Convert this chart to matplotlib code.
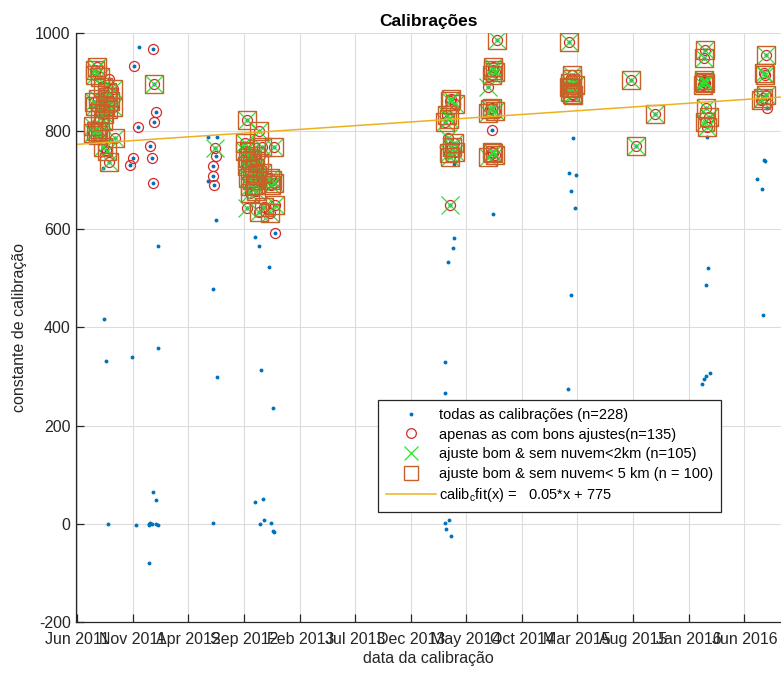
import matplotlib
matplotlib.use('Agg')
import matplotlib.pyplot as plt
import matplotlib.dates as mdates
import numpy as np
import pandas as pd

plt.rcParams['font.family'] = ['Liberation Sans', 'DejaVu Sans']
plt.rcParams['axes.unicode_minus'] = False

# calibrations with a bad fit (blue dot only)
bad_dates = ['2011-08-13', '2011-08-19', '2011-08-24', '2011-08-12',
             '2011-11-18', '2012-01-08', '2011-10-30', '2012-01-08', '2011-11-09', '2011-12-14',
             '2011-12-18', '2011-12-23', '2012-01-04', '2012-01-08', '2011-12-15', '2011-12-27',
             '2012-01-04', '2011-12-14',
             '2012-05-26', '2012-06-18', '2012-05-24', '2012-06-15', '2012-06-08', '2012-06-18', '2012-06-08',
             '2012-09-29', '2012-10-10', '2012-11-08', '2012-10-16', '2012-11-18', '2012-10-01',
             '2012-10-22', '2012-10-14', '2012-10-25', '2012-11-13', '2012-11-19', '2012-11-20',
             '2014-03-28', '2014-03-28', '2014-03-26', '2014-03-13', '2014-03-05', '2014-03-05',
             '2014-03-14', '2014-03-05', '2014-03-08', '2014-03-22',
             '2014-07-14',
             '2015-02-17', '2015-02-06', '2015-02-25', '2015-02-11', '2015-02-22', '2015-02-13', '2015-02-04',
             '2016-02-20', '2016-02-22', '2016-02-17', '2016-02-06', '2016-02-10', '2016-02-17', '2016-02-28',
             '2016-07-27', '2016-07-24', '2016-07-04', '2016-07-19', '2016-07-23']
bad_vals = [417, 332, 0, 725,
            971, 565, 340, 358, -3, 0, 1, 0, 0, -3, -2, 64, 48, -80,
            787, 787, 699, 618, 479, 299, 1,
            584, 566, 524, 314, 236, 45, 51, -1, 7, 2, -14, -16,
            733, 582, 562, 534, 329, 267, 7, 1, -10, -25,
            631,
            786, 714, 711, 677, 644, 466, 275,
            787, 521, 487, 285, 294, 300, 308,
            739, 740, 702, 681, 426]

# good fit only (circle)
circ_dates = ['2011-08-28', '2011-08-20',
              '2011-12-27', '2011-11-05', '2012-01-03', '2011-12-30', '2011-11-14', '2011-12-18',
              '2011-11-01', '2011-12-23', '2011-10-24', '2011-12-25',
              '2012-06-16', '2012-06-07', '2012-06-08', '2012-06-11',
              '2012-11-25', '2014-07-11', '2016-08-01']
circ_vals = [905, 762,
             968, 932, 839, 819, 809, 770, 746, 746, 730, 694,
             749, 729, 709, 690,
             592, 802, 846]

# good fit & no cloud < 2 km, but no square
x_dates = ['2012-06-13', '2012-09-08', '2014-03-12', '2014-03-19', '2014-07-01']
x_vals = [765, 643, 785, 650, 890]

# good fit & no cloud < 2 km & < 5 km
sq_dates = ['2011-07-26', '2011-07-21', '2011-08-03', '2011-09-07', '2011-08-25', '2011-07-21',
            '2011-08-17', '2011-09-07', '2011-08-03', '2011-07-15', '2011-08-03', '2011-09-14',
            '2011-08-11', '2011-08-22', '2011-08-28', '2011-07-20', '2011-08-10', '2011-08-22',
            '2011-07-18', '2011-07-28', '2011-08-15', '2011-07-22', '2011-07-28', '2011-08-12',
            '2011-08-25', '2011-07-15', '2011-08-30',
            '2011-12-30',
            '2012-09-08', '2012-10-10', '2012-09-03', '2012-09-17', '2012-10-19', '2012-11-20',
            '2012-09-03', '2012-09-12', '2012-09-23', '2012-10-01', '2012-09-08', '2012-09-17',
            '2012-09-28', '2012-10-10', '2012-09-12', '2012-09-23', '2012-10-05', '2012-10-19',
            '2012-09-17', '2012-10-01', '2012-09-17', '2012-10-03', '2012-11-11', '2012-11-16',
            '2012-11-14', '2012-11-20', '2012-10-10', '2012-11-11', '2012-11-25', '2012-10-24',
            '2014-03-19', '2014-04-02', '2014-03-10', '2014-03-05', '2014-03-14', '2014-03-24',
            '2014-03-14', '2014-04-02', '2014-03-19', '2014-03-28', '2014-03-22',
            '2014-07-25', '2014-07-14', '2014-07-19', '2014-07-11', '2014-07-11', '2014-07-19',
            '2014-06-30', '2014-07-11', '2014-07-19', '2014-07-01', '2014-07-15', '2014-07-05', '2014-07-14',
            '2015-02-06', '2015-02-16', '2015-02-10', '2015-02-10', '2015-02-19', '2015-02-13',
            '2015-02-22', '2015-02-06', '2015-02-14', '2015-02-16',
            '2015-07-26', '2015-08-10', '2015-10-01',
            '2016-02-15', '2016-02-10', '2016-02-10', '2016-02-15', '2016-02-08', '2016-02-12',
            '2016-02-18', '2016-02-24', '2016-02-15', '2016-02-20',
            '2016-07-31', '2016-07-27', '2016-07-31', '2016-07-15', '2016-07-25', '2016-07-21']
sq_vals = [931, 914, 910, 886, 870, 851, 850, 849, 837, 810, 798, 786, 768, 759, 736,
           925, 890, 880, 860, 865, 835, 800, 792, 820, 845, 795, 862,
           895,
           823, 799, 775, 758, 768, 768, 760, 745, 740, 750, 728, 720, 725, 735, 705, 700,
           710, 715, 688, 690, 673, 678, 705, 700, 690, 695, 636, 633, 650, 645,
           862, 856, 833, 819, 825, 768, 755, 758, 748, 775, 865,
           986, 931, 921, 914, 846, 840, 836, 758, 751, 748, 925, 845, 755,
           982, 914, 897, 880, 873, 887, 894, 890, 905, 876,
           903, 770, 835,
           965, 948, 904, 897, 894, 900, 846, 829, 819, 809,
           955, 914, 873, 863, 918, 868]

fit_slope = 0.05
fit_intercept = 775

tick_dates = pd.date_range('2011-06-01', periods=13, freq='5MS')
xlim = (pd.Timestamp('2011-05-28'), pd.Timestamp('2016-09-09'))

bad_d = pd.to_datetime(bad_dates)
circ_d = pd.to_datetime(circ_dates)
x_d = pd.to_datetime(x_dates)
sq_d = pd.to_datetime(sq_dates)

all_d = bad_d.append(circ_d).append(x_d).append(sq_d)
all_v = bad_vals + circ_vals + x_vals + sq_vals
good_d = circ_d.append(x_d).append(sq_d)
good_v = circ_vals + x_vals + sq_vals
x2_d = x_d.append(sq_d)
x2_v = x_vals + sq_vals

fig = plt.figure(figsize=(7.81, 6.74), dpi=100)
ax = fig.add_axes([75.5 / 781, 52 / 674, 705.5 / 781, 589.2 / 674])

ax.plot(all_d, all_v, 'o', ms=2.8, color='#0072BD', mec='none',
        label='todas as calibrações (n=228)')
ax.plot(good_d, good_v, 'o', ms=7.2, mfc='none', mec='#d42a2a', mew=0.9,
        label='apenas as com bons ajustes(n=135)')
ax.plot(x2_d, x2_v, 'x', ms=13, color='#2ee02e', mew=0.9,
        label='ajuste bom & sem nuvem<2km (n=105)')
ax.plot(sq_d, sq_vals, 's', ms=13, mfc='none', mec='#c8602a', mew=1.0,
        label='ajuste bom & sem nuvem< 5 km (n = 100)')

t0 = all_d.min()
line_x = pd.date_range(xlim[0], xlim[1], freq='D')
line_y = fit_slope * (line_x - t0).days.values + fit_intercept
ax.plot(line_x, line_y, color='#EDB120', lw=1.1,
        label='calib$_\\mathregular{c}$fit(x) =   0.05*x + 775')

ax.set_xlim(*xlim)
ax.set_ylim(-200, 1000)
ax.set_yticks(np.arange(-200, 1001, 200))
ax.set_xticks(tick_dates)
ax.xaxis.set_major_formatter(mdates.DateFormatter('%b %Y'))

ax.grid(True, color='#dcdcdc', lw=0.8)
ax.set_axisbelow(True)
for s in ['top', 'right']:
    ax.spines[s].set_visible(False)
for s in ['left', 'bottom']:
    ax.spines[s].set_color('#262626')
    ax.spines[s].set_linewidth(0.9)
ax.tick_params(direction='in', length=6, width=0.9, colors='#262626', labelsize=11.5)
ax.tick_params(axis='x', pad=7)

ax.set_title('Calibrações', fontsize=12.5, fontweight='bold', pad=5)
ax.set_xlabel('data da calibração', fontsize=11.5, color='#262626', labelpad=3)
ax.set_ylabel('constante de calibração', fontsize=11.5, color='#262626', labelpad=6)

leg = ax.legend(loc='upper left', bbox_to_anchor=(378 / 781, 1 - 400 / 674),
                bbox_transform=fig.transFigure, fontsize=10.5, handlelength=3.4,
                handletextpad=0.25, labelspacing=0.38, borderpad=0.55, borderaxespad=0,
                fancybox=False, framealpha=1)
leg.get_frame().set_edgecolor('#262626')
leg.get_frame().set_linewidth(0.9)
leg_sizes = [2.8, 7, 10, 9.5, 0]
for h, s in zip(leg.legend_handles, leg_sizes):
    if s:
        h.set_markersize(s)

fig.savefig('out.png', dpi=100)
